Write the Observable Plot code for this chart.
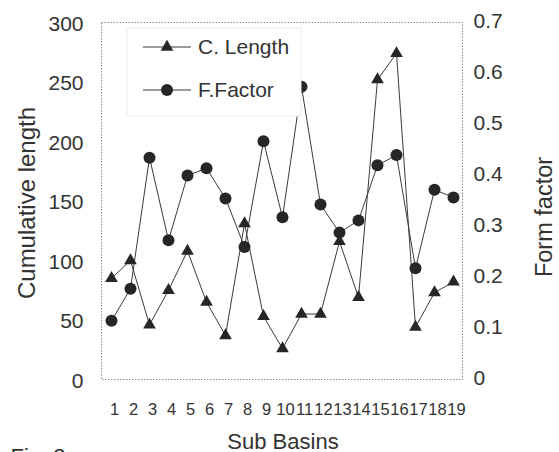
<!DOCTYPE html>
<html><head><meta charset="utf-8">
<script src="https://cdn.jsdelivr.net/npm/d3@7"></script>
<script src="https://cdn.jsdelivr.net/npm/@observablehq/plot@0.6"></script>
<style>
body{margin:0;background:#fff;}
#chart svg{font-family:"Liberation Sans",Arial,sans-serif;}
</style>
</head><body><div id="chart"></div>
<script>
const subBasins = [1,2,3,4,5,6,7,8,9,10,11,12,13,14,15,16,17,18,19];
const cLength = [85,100,46,75,108,65,37,131,53,26,55,55,116,69,252,274,44,73,82];
const formFactor = [0.115,0.178,0.435,0.273,0.40,0.414,0.355,0.26,0.467,0.318,0.574,0.343,0.288,0.312,0.42,0.44,0.218,0.372,0.357];
const lengthTicks = [0,50,100,150,200,250,300];
const formTicks = [0,0.1,0.2,0.3,0.4,0.5,0.6,0.7];
const seriesNames = ["C. Length","F.Factor"];

const lengthMax = 300, formMax = 0.7;
const k = lengthMax / formMax;
const rows = subBasins.map((b, i) => ({basin: b, length: cLength[i], ff: formFactor[i] * k}));

const ink = "#262626";
const lineInk = "#3a3a3a";

function legend() {
  const g = d3.create("svg:g");
  g.append("rect").attr("x", 127).attr("y", 28).attr("width", 174).attr("height", 88)
    .attr("fill", "white").attr("stroke", "#ececec");
  const items = [
    {label: seriesNames[0], y: 47, sym: d3.symbolTriangle, size: Math.PI * 4.7 * 4.7},
    {label: seriesNames[1], y: 90, sym: d3.symbolCircle, size: Math.PI * 36}
  ];
  for (const it of items) {
    g.append("line").attr("x1", 143).attr("x2", 191).attr("y1", it.y).attr("y2", it.y)
      .attr("stroke", lineInk).attr("stroke-width", 1);
    g.append("path").attr("d", d3.symbol(it.sym, it.size)()).attr("transform", `translate(167,${it.y})`)
      .attr("fill", ink);
    g.append("text").attr("x", 198).attr("y", it.y).attr("dy", "0.35em")
      .attr("text-anchor", "start")
      .attr("font-size", 21).attr("fill", "#333").text(it.label);
  }
  return g.node();
}

const chart = Plot.plot({
  width: 559, height: 452,
  marginLeft: 101, marginRight: 97, marginTop: 22, marginBottom: 73,
  style: {color: "#333", background: "white", fontFamily: '"Liberation Sans", Arial, sans-serif'},
  x: {type: "point", domain: subBasins, padding: 0.5},
  y: {domain: [0, lengthMax]},
  marks: [
    Plot.frame({stroke: "#8a8a8a", strokeDasharray: "1.5,1.5"}),
    Plot.axisY(lengthTicks, {anchor: "left", tickSize: 0, tickPadding: 18, fontSize: 21, label: null, dy: 1.5}),
    Plot.axisY(formTicks.map(v => v * k), {anchor: "right", tickSize: 0, tickPadding: 11, fontSize: 21, label: null, dy: -1,
      tickFormat: d => String(+(d / k).toFixed(1))}),
    Plot.axisX(subBasins, {anchor: "bottom", tickSize: 0, tickPadding: 24, fontSize: 16.5, label: null, dx: 3}),
    Plot.text(["Cumulative length"], {text: d => d, frameAnchor: "left", dx: -74, dy: 2, rotate: -90, fontSize: 24, textAnchor: "middle", lineAnchor: "middle", fill: "#333"}),
    Plot.text(["Form factor"], {text: d => d, frameAnchor: "right", dx: 82, dy: 16, rotate: -90, fontSize: 23.5, textAnchor: "middle", lineAnchor: "middle", fill: "#333"}),
    Plot.text(["Sub Basins"], {text: d => d, frameAnchor: "bottom", dx: 1, dy: 69, fontSize: 22, textAnchor: "middle", lineAnchor: "bottom", fill: "#333"}),
    Plot.text(["Fig. 3a"], {text: d => d, frameAnchor: "bottom-left", dx: -91, dy: 84, fontSize: 22, textAnchor: "start", lineAnchor: "bottom", fill: "#333"}),
    Plot.line(rows, {x: "basin", y: "length", stroke: lineInk, strokeWidth: 1}),
    Plot.line(rows, {x: "basin", y: "ff", stroke: lineInk, strokeWidth: 1}),
    Plot.dot(rows, {x: "basin", y: "ff", r: 6, symbol: "circle", fill: ink, stroke: "none"}),
    Plot.dot(rows, {x: "basin", y: "length", r: 4.7, symbol: "triangle", fill: ink, stroke: "none"}),
    legend
  ]
});
document.getElementById("chart").appendChild(chart);
</script>
</body></html>
